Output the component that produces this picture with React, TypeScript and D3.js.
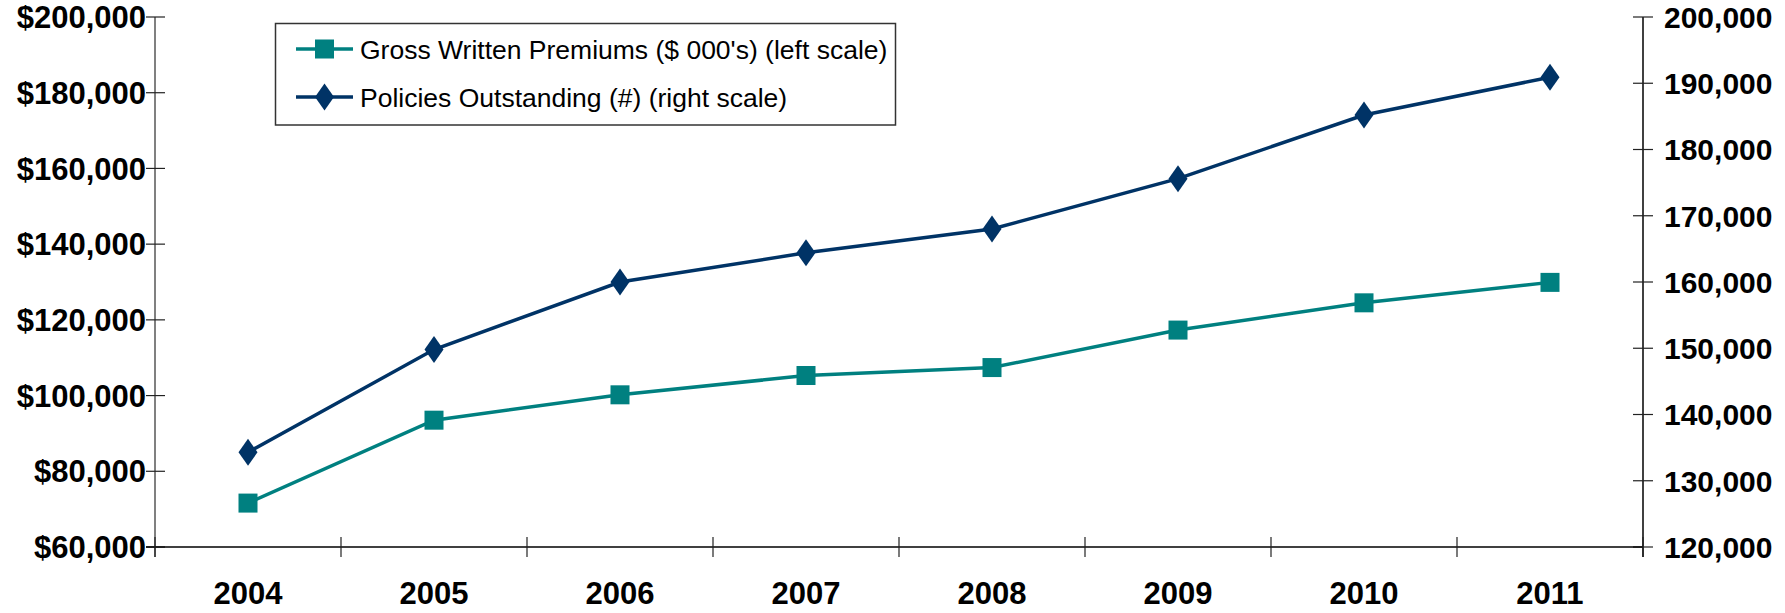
import React from "react";
import * as d3 from "d3";

// Years on the category axis
const years = ["2004", "2005", "2006", "2007", "2008", "2009", "2010", "2011"];
// Gross Written Premiums, $ 000's (left scale)
const premiums = [71600, 93500, 100200, 105300, 107400, 117300, 124500, 129900];
// Policies Outstanding, count (right scale)
const policies = [134300, 149800, 160000, 164400, 168000, 175600, 185200, 190900];
// Axis ticks
const leftTicks = [60000, 80000, 100000, 120000, 140000, 160000, 180000, 200000];
const rightTicks = [120000, 130000, 140000, 150000, 160000, 170000, 180000, 190000, 200000];

const seriesNames = [
  "Gross Written Premiums ($ 000's) (left scale)",
  "Policies Outstanding (#) (right scale)",
];

const W = 1785;
const H = 613;
const plot = { left: 155, right: 1643, top: 17, bottom: 547 };
const TEAL = "#008080";
const NAVY = "#003366";
const FONT = "Liberation Sans, Arial, Helvetica, sans-serif";
const NARROW = "Liberation Sans Narrow, Arial Narrow, Liberation Sans, Arial, sans-serif";

export default function App() {
  const x = d3
    .scaleBand<string>()
    .domain(years)
    .range([plot.left, plot.right])
    .paddingInner(0)
    .paddingOuter(0);
  const yL = d3.scaleLinear().domain([60000, 200000]).range([plot.bottom, plot.top]);
  const yR = d3.scaleLinear().domain([120000, 200000]).range([plot.bottom, plot.top]);

  const cx = (d: string) => (x(d) ?? 0) + x.bandwidth() / 2;

  const premLine = d3
    .line<number>()
    .x((_, i) => cx(years[i]))
    .y((v) => yL(v));
  const polLine = d3
    .line<number>()
    .x((_, i) => cx(years[i]))
    .y((v) => yR(v));

  const fmtL = d3.format("$,.0f");
  const fmtR = d3.format(",.0f");

  const sq = 19;
  const diamond = (px: number, py: number, w = 19, h = 27) =>
    `M${px},${py - h / 2}L${px + w / 2},${py}L${px},${py + h / 2}L${px - w / 2},${py}Z`;

  const boundaries = d3.range(years.length + 1).map((i) => plot.left + i * x.bandwidth());

  const legend = { x: 275.5, y: 23.5, w: 620, h: 101.5 };
  const legRows = [49, 97];

  return (
    <svg
      width={W}
      height={H}
      style={{ position: "absolute", left: 0, top: 0, background: "#fff" }}
      fontFamily={FONT}
    >
      <rect x={0} y={0} width={W} height={H} fill="#fff" />

      {/* left axis */}
      <line x1={plot.left} x2={plot.left} y1={plot.top} y2={plot.bottom + 10} stroke="#808080" strokeWidth={2} />
      {leftTicks.map((t) => (
        <g key={"l" + t}>
          <line x1={plot.left - 9} x2={plot.left + 10} y1={yL(t)} y2={yL(t)} stroke="#222" strokeWidth={1.2} />
          <text x={146} y={yL(t)} dy="0.36em" textAnchor="end" fontSize={31} fontWeight="bold" fill="#000">
            {fmtL(t)}
          </text>
        </g>
      ))}

      {/* right axis */}
      <line x1={plot.right} x2={plot.right} y1={plot.top} y2={plot.bottom + 10} stroke="#000" strokeWidth={1.5} />
      {rightTicks.map((t) => (
        <g key={"r" + t}>
          <line x1={plot.right - 10} x2={plot.right + 10} y1={yR(t)} y2={yR(t)} stroke="#222" strokeWidth={1.2} />
          <text x={1664} y={yR(t)} dy="0.36em" textAnchor="start" fontSize={30} fontWeight="bold" fill="#000">
            {fmtR(t)}
          </text>
        </g>
      ))}

      {/* category axis */}
      <line x1={plot.left - 9} x2={plot.right} y1={plot.bottom} y2={plot.bottom} stroke="#000" strokeWidth={1.5} />
      {boundaries.map((b, i) => (
        <line key={"b" + i} x1={b} x2={b} y1={plot.bottom - 10} y2={plot.bottom + 10} stroke="#222" strokeWidth={1.2} />
      ))}
      {years.map((yr) => (
        <text
          key={yr}
          x={cx(yr)}
          y={593}
          dy="0.36em"
          textAnchor="middle"
          fontSize={31}
          fontWeight="bold"
          fontFamily={NARROW}
          fill="#000"
        >
          {yr}
        </text>
      ))}

      {/* series */}
      <path d={polLine(policies) ?? ""} fill="none" stroke={NAVY} strokeWidth={3.5} />
      <path d={premLine(premiums) ?? ""} fill="none" stroke={TEAL} strokeWidth={3.5} />
      {premiums.map((v, i) => (
        <rect key={"p" + i} x={cx(years[i]) - sq / 2} y={yL(v) - sq / 2} width={sq} height={sq} fill={TEAL} />
      ))}
      {policies.map((v, i) => (
        <path key={"q" + i} d={diamond(cx(years[i]), yR(v))} fill={NAVY} />
      ))}

      {/* legend */}
      <rect x={legend.x} y={legend.y} width={legend.w} height={legend.h} fill="#fff" stroke="#333" strokeWidth={1.5} />
      <line x1={296} x2={353} y1={legRows[0]} y2={legRows[0]} stroke={TEAL} strokeWidth={3.5} />
      <rect x={324.5 - sq / 2} y={legRows[0] - sq / 2} width={sq} height={sq} fill={TEAL} />
      <text x={360} y={legRows[0]} dy="0.36em" fontSize={26.5} fill="#000">
        {seriesNames[0]}
      </text>
      <line x1={296} x2={353} y1={legRows[1]} y2={legRows[1]} stroke={NAVY} strokeWidth={3.5} />
      <path d={diamond(324.5, legRows[1])} fill={NAVY} />
      <text x={360} y={legRows[1]} dy="0.36em" fontSize={26.5} fill="#000">
        {seriesNames[1]}
      </text>
    </svg>
  );
}
